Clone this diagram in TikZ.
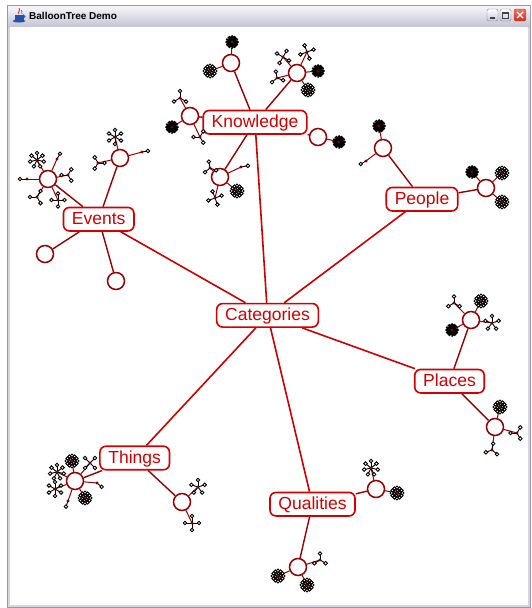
\documentclass[tikz,border=0pt]{standalone}
\usepackage{fontspec}
\setmainfont{Liberation Sans}
\pgfdeclarelayer{chrome}
\pgfdeclarelayer{wires}
\pgfsetlayers{chrome,wires,main}

\definecolor{topicred}{RGB}{210,0,0}
\definecolor{trunkred}{RGB}{204,0,0}
\definecolor{branch}{RGB}{150,0,0}
\definecolor{hub}{RGB}{120,0,0}
\definecolor{winedge}{RGB}{150,150,176}
\definecolor{winrim}{RGB}{214,214,226}
\definecolor{titletop}{RGB}{246,246,250}
\definecolor{titlebot}{RGB}{196,196,212}
\definecolor{btnedge}{RGB}{130,130,160}
\definecolor{btnbot}{RGB}{200,200,218}
\definecolor{closetop}{RGB}{236,120,100}
\definecolor{closebot}{RGB}{200,50,30}
\definecolor{cupblue}{RGB}{40,80,170}
\definecolor{steam}{RGB}{220,60,30}

\tikzset{
  topic/.style={draw=topicred, text=topicred, fill=white, line width=1.6pt,
    rounded corners=6pt, font=\fontsize{17.5}{18}\selectfont,
    inner xsep=8.5pt, inner ysep=0pt, minimum height=23.5pt,
    text height=13pt, text depth=2.5pt},
  ball/.style={circle, draw=branch, fill=white, line width=1.5pt,
    minimum size=17pt, inner sep=0pt},
  trunk/.style={draw=trunkred, line width=1.6pt},
  limb/.style={draw=branch, line width=1.4pt},
  twig/.style={draw=branch, line width=1pt},
  % a hub with #1 arms, first arm at angle #2, arm length #3
  pics/spray/.style n args={3}{code={
    \foreach \k in {1,...,#1}{
      \draw[black, line width=0.9pt] (0,0) -- ({#2+(\k-1)*360/#1}:#3pt);}
    \foreach \k in {1,...,#1}{
      \filldraw[fill=white, draw=black, line width=0.9pt]
        ({#2+(\k-1)*360/#1}:#3pt) circle (1.8pt);}
    \fill[hub] (0,0) circle (1.7pt);
  }},
  % a dense ring of open leaves
  pics/puff/.style={code={
    \foreach \a in {0,30,...,330}{
      \filldraw[fill=white, draw=black, line width=0.9pt] (\a:5.2pt) circle (1.7pt);}
    \foreach \a in {15,75,...,315}{
      \filldraw[fill=white, draw=black, line width=0.9pt] (\a:2.6pt) circle (1.4pt);}
    \fill[hub] (0,0) circle (1.5pt);
  }},
  % a ring packed so tightly that it reads as solid
  pics/ink/.style={code={
    \fill[black] (0,0) circle (5.6pt);
    \foreach \a in {0,30,...,330}{\fill[black] (\a:5.2pt) circle (1.8pt);}
    \foreach \a in {20,140,260}{\fill[white] (\a:5.4pt) circle (0.5pt);}
    \fill[hub] (0,0) circle (1.6pt);
  }},
}

\begin{document}
\begin{tikzpicture}[x=1pt,y=-1pt]
\useasboundingbox (0,0) rectangle (531,608);

% ---------- window frame ----------
\begin{pgfonlayer}{chrome}
  \fill[white] (0,0) rectangle (531,608);
  \fill[winedge] (7,5) rectangle (531,608);
  \fill[winrim] (8,6) rectangle (530,607);
  \shade[top color=titletop, bottom color=titlebot] (8,6) rectangle (530,27);
  \fill[white] (10,27) rectangle (528,605);
  % application icon
  \draw[steam, line width=0.9pt] (19,14) .. controls (17,12) and (21,11) .. (19,8);
  \draw[steam, line width=0.7pt] (22,14) .. controls (20.5,12.5) and (23,11.5) .. (21.5,10);
  \fill[cupblue] (14.5,15) rectangle (23.5,19.5);
  \draw[cupblue, line width=0.8pt] (23.5,16.5) circle (1.6pt);
  \fill[cupblue] (19,21) ellipse (6.5pt and 1.5pt);
  % caption buttons
  \draw[rounded corners=2pt, draw=btnedge, top color=white, bottom color=btnbot]
    (487,9) rectangle (498,21);
  \draw[rounded corners=2pt, draw=btnedge, top color=white, bottom color=btnbot]
    (500,9) rectangle (511,21);
  \draw[rounded corners=2pt, draw=closebot, top color=closetop, bottom color=closebot]
    (514,9) rectangle (526,21);
  \fill[black!75] (490,17) rectangle (495,18.6);
  \draw[black!75, line width=0.8pt] (502.8,12.2) rectangle (508.2,18);
  \fill[black!75] (502.8,12.2) rectangle (508.2,13.6);
  \draw[white, line width=1.4pt] (517,12) -- (523,18) (523,12) -- (517,18);
\end{pgfonlayer}
\node[anchor=west, font=\bfseries\fontsize{10}{12}\selectfont, text=black, inner sep=0pt]
  (ttl) at (29,16) {BalloonTree Demo};

% ---------- topics ----------
\node[topic] (cat)  at (267.5,315.3) {Categories};
\node[topic] (know) at (255,122.2)   {Knowledge};
\node[topic] (peop) at (422,199.2)   {People};
\node[topic] (evts) at (98.7,219.2)  {Events};
\node[topic] (plac) at (449.5,381.2) {Places};
\node[topic] (thng) at (134.7,458)   {Things};
\node[topic] (qual) at (312.5,504.2) {Qualities};

% ---------- second ring ----------
\node[ball] (k1)  at (231,63)  {};
\node[ball] (k2)  at (297,73)  {};
\node[ball] (k3)  at (190,116) {};
\node[ball] (k4)  at (318,137) {};
\node[ball] (k5)  at (220,177) {};
\node[ball] (e1)  at (48,179)  {};
\node[ball] (e2)  at (120,158) {};
\node[ball] (e3)  at (45,254)  {};
\node[ball] (e4)  at (116,281) {};
\node[ball] (p1)  at (383,148) {};
\node[ball] (p2)  at (486,188) {};
\node[ball] (l1)  at (471,320) {};
\node[ball] (l2)  at (495,427) {};
\node[ball] (t1)  at (75,481)  {};
\node[ball] (t2)  at (182,502) {};
\node[ball] (q1)  at (376,489) {};
\node[ball] (q2)  at (298,567) {};

% ---------- outer clusters ----------
\coordinate (k1a) at (232,42);  \pic at (k1a) {ink};
\coordinate (k1b) at (210,71);  \pic at (k1b) {puff};
\coordinate (k2a) at (283,57);  \pic at (k2a) {spray={4}{60}{7}};
\coordinate (k2b) at (307,52);  \pic at (k2b) {spray={4}{20}{7}};
\coordinate (k2c) at (318,71);  \pic at (k2c) {ink};
\coordinate (k2d) at (308,90);  \pic at (k2d) {puff};
\coordinate (k2e) at (277,78);  \pic at (k2e) {spray={3}{100}{6.5}};
\coordinate (k3a) at (180,98);  \pic at (k3a) {spray={3}{90}{7}};
\coordinate (k3b) at (172,127); \pic at (k3b) {ink};
\coordinate (k3c) at (200,137); \pic at (k3c) {spray={3}{300}{6.5}};
\coordinate (k4a) at (339,142); \pic at (k4a) {ink};
\coordinate (k5a) at (210,168); \pic at (k5a) {spray={3}{100}{6.5}};
\coordinate (k5b) at (241,167); \pic at (k5b) {spray={1}{10}{7}};
\coordinate (k5c) at (237,191); \pic at (k5c) {puff};
\coordinate (k5d) at (215,198); \pic at (k5d) {spray={4}{20}{7}};

\coordinate (e1a) at (37,160);  \pic at (e1a) {spray={7}{90}{7}};
\coordinate (e1b) at (27,179);  \pic at (e1b) {spray={1}{180}{7}};
\coordinate (e1c) at (68,175);  \pic at (e1c) {spray={3}{60}{6.5}};
\coordinate (e1d) at (37,197);  \pic at (e1d) {spray={3}{180}{7}};
\coordinate (e1e) at (58,200);  \pic at (e1e) {spray={4}{0}{6.5}};
\coordinate (e1f) at (57,159);  \pic at (e1f) {spray={1}{60}{6}};
\coordinate (e2a) at (115,137); \pic at (e2a) {spray={6}{90}{7}};
\coordinate (e2b) at (98,163);  \pic at (e2b) {spray={3}{120}{6.5}};
\coordinate (e2c) at (142,152); \pic at (e2c) {spray={1}{10}{6}};

\coordinate (p1a) at (379,126); \pic at (p1a) {ink};
\coordinate (p1b) at (366,161); \pic at (p1b) {spray={1}{210}{6}};
\coordinate (p2a) at (472,172); \pic at (p2a) {ink};
\coordinate (p2b) at (502,173); \pic at (p2b) {puff};
\coordinate (p2c) at (502,202); \pic at (p2c) {puff};

\coordinate (l1a) at (454,303); \pic at (l1a) {spray={3}{90}{6.5}};
\coordinate (l1b) at (481,301); \pic at (l1b) {puff};
\coordinate (l1c) at (492,323); \pic at (l1c) {spray={5}{90}{7}};
\coordinate (l1d) at (452,330); \pic at (l1d) {ink};
\coordinate (l2a) at (500,407); \pic at (l2a) {puff};
\coordinate (l2b) at (517,433); \pic at (l2b) {spray={3}{60}{6.5}};
\coordinate (l2c) at (492,450); \pic at (l2c) {spray={3}{200}{6.5}};

\coordinate (t1a) at (72,461);  \pic at (t1a) {puff};
\coordinate (t1b) at (57,472);  \pic at (t1b) {spray={7}{90}{7}};
\coordinate (t1c) at (55,489);  \pic at (t1c) {spray={6}{90}{7}};
\coordinate (t1d) at (85,498);  \pic at (t1d) {puff};
\coordinate (t1e) at (90,463);  \pic at (t1e) {spray={4}{45}{7}};
\coordinate (t1f) at (68,501);  \pic at (t1f) {spray={1}{250}{6}};
\coordinate (t1g) at (97,483);  \pic at (t1g) {spray={1}{-40}{6}};
\coordinate (t2a) at (198,487); \pic at (t2a) {spray={5}{90}{7}};
\coordinate (t2b) at (192,523); \pic at (t2b) {spray={4}{0}{7}};

\coordinate (q1a) at (371,468); \pic at (q1a) {spray={7}{90}{7}};
\coordinate (q1b) at (397,493); \pic at (q1b) {puff};
\coordinate (q2a) at (278,576); \pic at (q2a) {puff};
\coordinate (q2b) at (307,585); \pic at (q2b) {puff};
\coordinate (q2c) at (320,560); \pic at (q2c) {spray={3}{90}{6.5}};

% ---------- connectors ----------
\begin{pgfonlayer}{wires}
  \foreach \t in {know,peop,evts,plac,thng,qual}
    \draw[trunk] (cat) -- (\t);
  \foreach \b in {k1,k2,k3,k4,k5} \draw[limb] (know) -- (\b);
  \foreach \b in {e1,e2,e3,e4}    \draw[limb] (evts) -- (\b);
  \foreach \b in {p1,p2}          \draw[limb] (peop) -- (\b);
  \foreach \b in {l1,l2}          \draw[limb] (plac) -- (\b);
  \foreach \b in {t1,t2}          \draw[limb] (thng) -- (\b);
  \foreach \b in {q1,q2}          \draw[limb] (qual) -- (\b);
  \foreach \c in {k1a,k1b}                 \draw[twig] (k1) -- (\c);
  \foreach \c in {k2a,k2b,k2c,k2d,k2e}     \draw[twig] (k2) -- (\c);
  \foreach \c in {k3a,k3b,k3c}             \draw[twig] (k3) -- (\c);
  \draw[twig] (k4) -- (k4a);
  \foreach \c in {k5a,k5b,k5c,k5d}         \draw[twig] (k5) -- (\c);
  \foreach \c in {e1a,e1b,e1c,e1d,e1e,e1f} \draw[twig] (e1) -- (\c);
  \foreach \c in {e2a,e2b,e2c}             \draw[twig] (e2) -- (\c);
  \foreach \c in {p1a,p1b}                 \draw[twig] (p1) -- (\c);
  \foreach \c in {p2a,p2b,p2c}             \draw[twig] (p2) -- (\c);
  \foreach \c in {l1a,l1b,l1c,l1d}         \draw[twig] (l1) -- (\c);
  \foreach \c in {l2a,l2b,l2c}             \draw[twig] (l2) -- (\c);
  \foreach \c in {t1a,t1b,t1c,t1d,t1e,t1f,t1g} \draw[twig] (t1) -- (\c);
  \foreach \c in {t2a,t2b}                 \draw[twig] (t2) -- (\c);
  \foreach \c in {q1a,q1b}                 \draw[twig] (q1) -- (\c);
  \foreach \c in {q2a,q2b,q2c}             \draw[twig] (q2) -- (\c);
\end{pgfonlayer}
\end{tikzpicture}
\end{document}
